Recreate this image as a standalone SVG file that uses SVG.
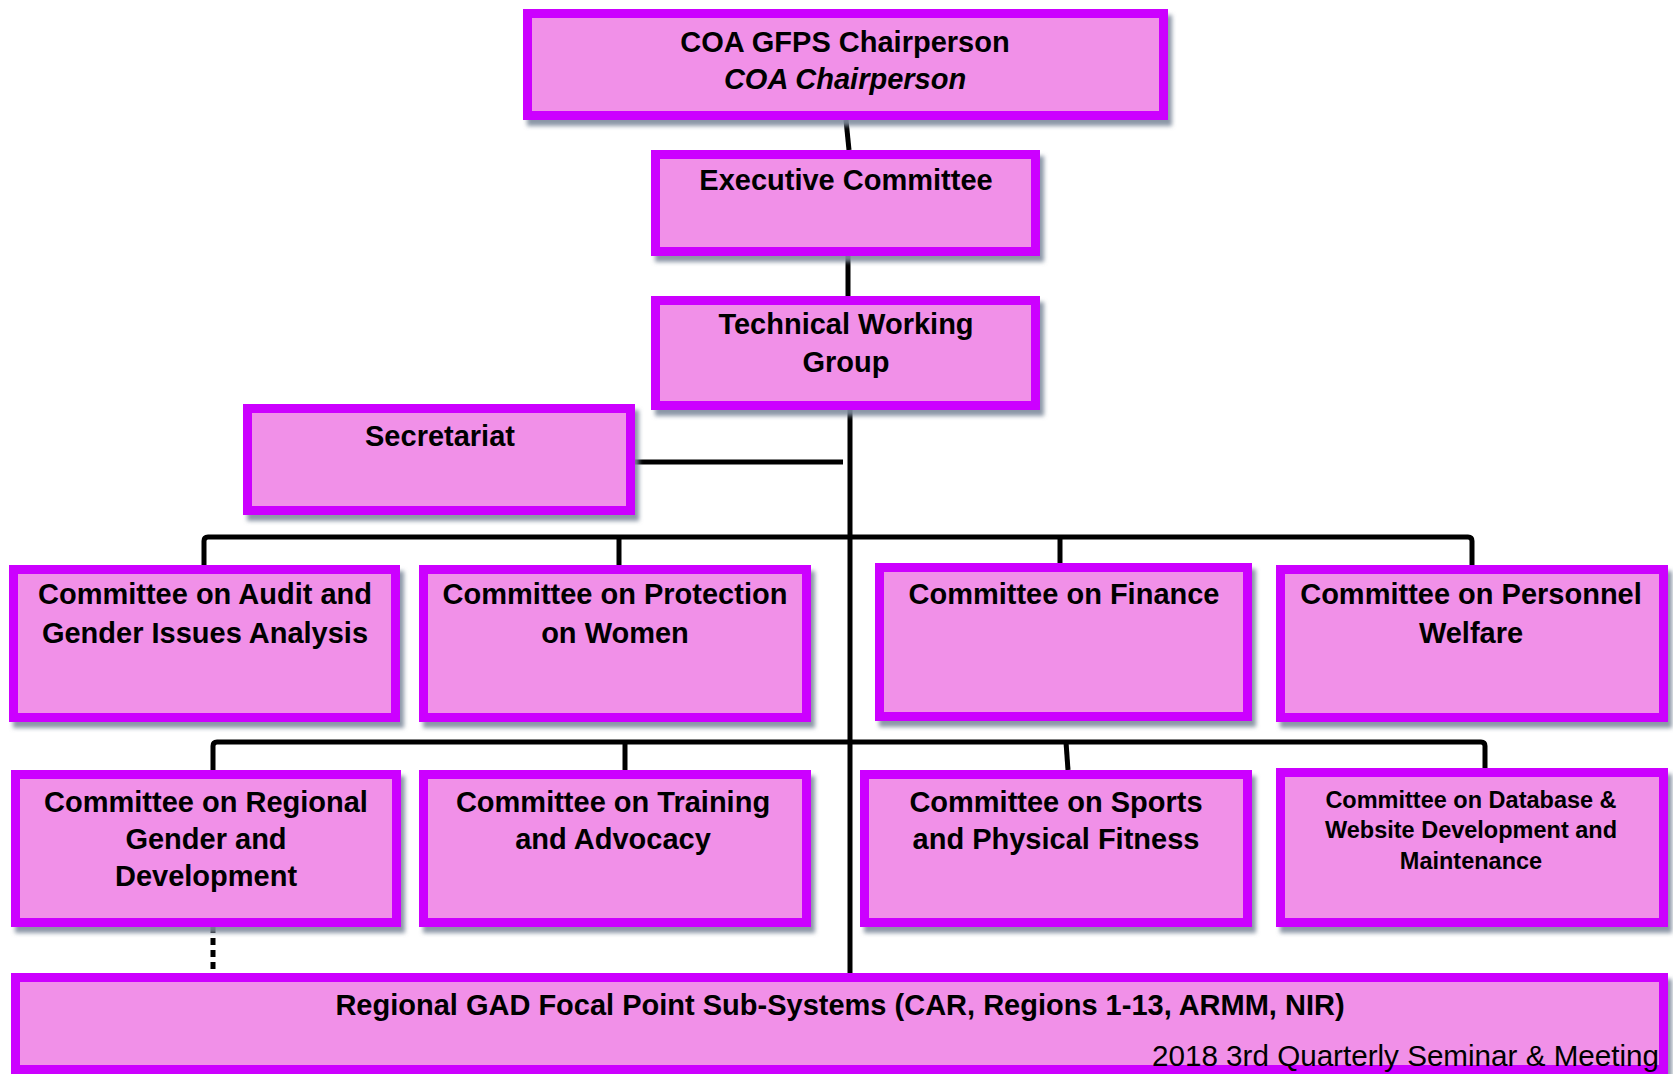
<svg xmlns="http://www.w3.org/2000/svg" width="1673" height="1074" viewBox="0 0 1673 1074">
<defs>
<filter id="sh" x="-5%" y="-10%" width="115%" height="130%">
<feDropShadow dx="4" dy="6" stdDeviation="2" flood-color="#7f8c9e" flood-opacity="0.9"/>
</filter>
<style>
.box{fill:#F190E8;stroke:#CC00FF;stroke-width:9;filter:url(#sh)}
.t{font-family:"Liberation Sans",Arial,sans-serif;font-weight:bold;font-size:29px;fill:#000;text-anchor:middle}
.s{font-size:23.5px}
.i{font-style:italic}
.ln{fill:none;stroke:#000;stroke-width:5;stroke-linejoin:round}
.ft{font-family:"Liberation Sans",Arial,sans-serif;font-size:29px;fill:#000}
</style>
</defs>
<rect width="1673" height="1074" fill="#fff"/>
<g id="connectors">
<path class="ln" d="M846,120 L849,150"/>
<path class="ln" d="M848,256 V296"/>
<path class="ln" d="M850,410 V973"/>
<path class="ln" d="M635,462 H843"/>
<path class="ln" d="M204,565 V541 Q204,537 208,537 H1468 Q1472,537 1472,541 V565"/>
<path class="ln" d="M619,537 V565"/>
<path class="ln" d="M1060,537 V563"/>
<path class="ln" d="M213,770 V746 Q213,742 217,742 H1481 Q1485,742 1485,746 V768"/>
<path class="ln" d="M625,742 V770"/>
<path class="ln" d="M1066,742 L1068,770"/>
<path class="ln" d="M213,926 V973" stroke-dasharray="7,5"/>
</g>
<g id="chair">
<rect class="box" x="527.5" y="13.5" width="636" height="102"/>
<text class="t" x="845" y="52">COA GFPS Chairperson</text>
<text class="t i" x="845" y="89">COA Chairperson</text>
</g>
<g id="exec">
<rect class="box" x="655.5" y="154.5" width="380" height="97"/>
<text class="t" x="846" y="190">Executive Committee</text>
</g>
<g id="twg">
<rect class="box" x="655.5" y="300.5" width="380" height="105"/>
<text class="t" x="846" y="334">Technical Working</text>
<text class="t" x="846" y="372">Group</text>
</g>
<g id="secretariat">
<rect class="box" x="247.5" y="408.5" width="383" height="102"/>
<text class="t" x="440" y="446">Secretariat</text>
</g>
<g id="audit">
<rect class="box" x="13.5" y="569.5" width="382" height="148"/>
<text class="t" x="205" y="604">Committee on Audit and</text>
<text class="t" x="205" y="643">Gender Issues Analysis</text>
</g>
<g id="protection">
<rect class="box" x="423.5" y="569.5" width="383" height="148"/>
<text class="t" x="615" y="604">Committee on Protection</text>
<text class="t" x="615" y="643">on Women</text>
</g>
<g id="finance">
<rect class="box" x="879.5" y="567.5" width="368" height="149"/>
<text class="t" x="1064" y="604">Committee on Finance</text>
</g>
<g id="personnel">
<rect class="box" x="1280.5" y="569.5" width="383" height="148"/>
<text class="t" x="1471" y="604">Committee on Personnel</text>
<text class="t" x="1471" y="643">Welfare</text>
</g>
<g id="regional">
<rect class="box" x="15.5" y="774.5" width="381" height="148"/>
<text class="t" x="206" y="812">Committee on Regional</text>
<text class="t" x="206" y="849">Gender and</text>
<text class="t" x="206" y="886">Development</text>
</g>
<g id="training">
<rect class="box" x="423.5" y="774.5" width="383" height="148"/>
<text class="t" x="613" y="812">Committee on Training</text>
<text class="t" x="613" y="849">and Advocacy</text>
</g>
<g id="sports">
<rect class="box" x="864.5" y="774.5" width="383" height="148"/>
<text class="t" x="1056" y="812">Committee on Sports</text>
<text class="t" x="1056" y="849">and Physical Fitness</text>
</g>
<g id="database">
<rect class="box" x="1280.5" y="772.5" width="383" height="150"/>
<text class="t s" x="1471" y="808">Committee on Database &amp;</text>
<text class="t s" x="1471" y="838">Website Development and</text>
<text class="t s" x="1471" y="869">Maintenance</text>
</g>
<g id="regional-gad">
<rect class="box" x="15.5" y="977.5" width="1648" height="92"/>
<text class="t" x="840" y="1015">Regional GAD Focal Point Sub-Systems (CAR, Regions 1-13, ARMM, NIR)</text>
</g>
<text class="ft" x="1152" y="1066" textLength="507" lengthAdjust="spacingAndGlyphs">2018 3rd Quarterly Seminar &amp; Meeting</text>
</svg>
